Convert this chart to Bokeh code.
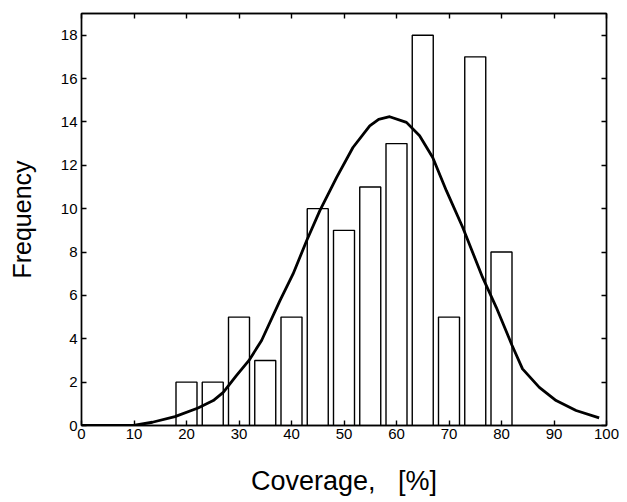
from bokeh.plotting import figure
from bokeh.models import LinearAxis, Range1d, FixedTicker, ColumnDataSource
from bokeh.embed import file_html
from bokeh.resources import INLINE

# Histogram data
bin_centers = [20, 25, 30, 35, 40, 45, 50, 55, 60, 65, 70, 75, 80]
frequencies = [2, 2, 5, 3, 5, 10, 9, 11, 13, 18, 5, 17, 8]
bar_width = 4

# Fitted curve
curve_x = [0, 9.9, 13.5, 17.8, 22.2, 25.1, 27.0, 29.5, 31.9, 34.3, 37.8, 40.3, 42.9,
           45.4, 48.6, 51.7, 54.9, 56.6, 58.7, 61.9, 64.4, 66.9, 69.5, 72.6, 76.4,
           79.0, 82.0, 84.0, 87.2, 90.4, 94.2, 98.6]
curve_y = [0, 0, 0.15, 0.41, 0.81, 1.15, 1.53, 2.3, 3.0, 3.92, 5.76, 6.99, 8.53,
           9.91, 11.44, 12.82, 13.82, 14.12, 14.24, 13.98, 13.36, 12.36, 10.83, 9.14, 6.83,
           5.45, 3.7, 2.61, 1.76, 1.15, 0.69, 0.35]

x_ticks = [0, 10, 20, 30, 40, 50, 60, 70, 80, 90, 100]
y_ticks = [0, 2, 4, 6, 8, 10, 12, 14, 16, 18]

FONT = "Liberation Sans"
NB = "\u00a0"

p = figure(width=619, height=500, output_backend="svg", toolbar_location=None,
           x_range=Range1d(0, 100), y_range=Range1d(0, 19),
           min_border_left=81, min_border_right=13, min_border_top=13, min_border_bottom=75)
p.grid.visible = False
p.outline_line_color = "black"
p.outline_line_width = 1.4
p.background_fill_color = "white"
p.border_fill_color = "white"

src = ColumnDataSource(dict(x=bin_centers, top=frequencies))
p.vbar(x="x", top="top", width=bar_width, bottom=0, source=src,
       fill_color="white", line_color="black", line_width=1.4)
p.line(curve_x, curve_y, line_color="black", line_width=2.8, line_join="round")

xa = p.xaxis[0]
xa.ticker = FixedTicker(ticks=x_ticks)
xa.axis_label = "Coverage," + NB * 3 + "[%]"
ya = p.yaxis[0]
ya.ticker = FixedTicker(ticks=y_ticks)
ya.axis_label = "Frequency"

for ax in (xa, ya):
    ax.major_tick_in = 5
    ax.major_tick_out = 0
    ax.minor_tick_line_color = None
    ax.axis_line_color = "black"
    ax.axis_line_width = 1.4
    ax.major_tick_line_width = 1.4
    ax.major_label_text_font = FONT
    ax.major_label_text_font_size = "15px"
    ax.major_label_text_color = "black"
    ax.axis_label_text_font = FONT
    ax.axis_label_text_font_style = "normal"
    ax.axis_label_text_color = "black"
xa.axis_label_text_font_size = "27px"
ya.axis_label_text_font_size = "25px"
xa.major_label_standoff = 3
xa.axis_label_standoff = 24
ya.major_label_standoff = 4
ya.axis_label_standoff = 22

# mirrored axes (top / right) with inward ticks and no labels
top = LinearAxis(ticker=FixedTicker(ticks=x_ticks))
right = LinearAxis(ticker=FixedTicker(ticks=y_ticks))
for ax in (top, right):
    ax.major_tick_in = 5
    ax.major_tick_out = 0
    ax.minor_tick_line_color = None
    ax.axis_line_color = "black"
    ax.axis_line_width = 1.4
    ax.major_tick_line_width = 1.4
    ax.major_label_text_font_size = "1px"
    ax.major_label_text_color = None
    ax.major_label_standoff = 0
p.add_layout(top, "above")
p.add_layout(right, "right")

open("out.html", "w").write(file_html(p, INLINE))
